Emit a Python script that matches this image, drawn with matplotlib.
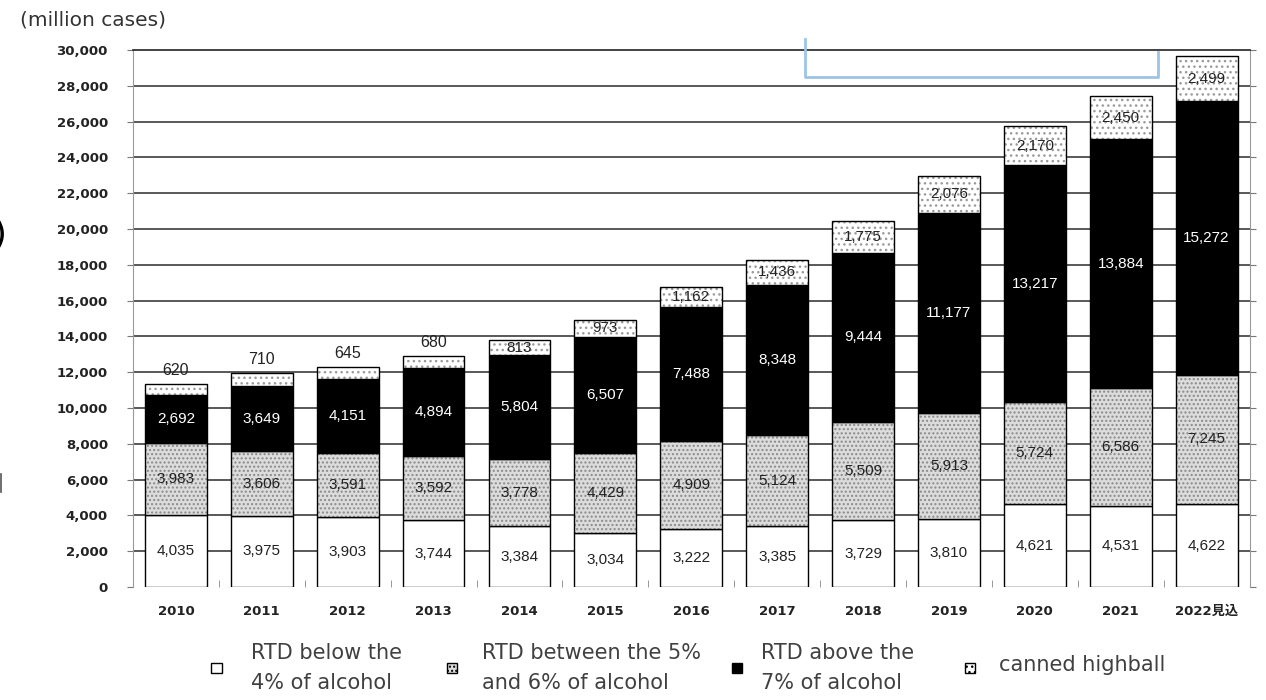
import matplotlib
matplotlib.use("Agg")
import matplotlib.pyplot as plt
import matplotlib.lines as mlines
import matplotlib.patches as patches
import numpy as np

years = ["2010", "2011", "2012", "2013", "2014", "2015", "2016",
         "2017", "2018", "2019", "2020", "2021", "2022見込"]
below4 = [4035, 3975, 3903, 3744, 3384, 3034, 3222, 3385, 3729, 3810, 4621, 4531, 4622]
between5_6 = [3983, 3606, 3591, 3592, 3778, 4429, 4909, 5124, 5509, 5913, 5724, 6586, 7245]
above7 = [2692, 3649, 4151, 4894, 5804, 6507, 7488, 8348, 9444, 11177, 13217, 13884, 15272]
highball = [620, 710, 645, 680, 813, 973, 1162, 1436, 1775, 2076, 2170, 2450, 2499]
yticks = list(range(0, 30001, 2000))

NUM_FONT = ["Liberation Sans", "Noto Sans CJK JP"]
TICK_FONT = ["DejaVu Sans", "Noto Sans CJK JP"]
TXT_FONT = ["DejaVu Sans"]

fig = plt.figure(figsize=(12.66, 7), dpi=100)
ax = fig.add_axes([0.105, 0.1614, 0.882, 0.7672])

x = np.arange(len(years))
w = 0.72
b1 = np.array(below4)
b2 = b1 + np.array(between5_6)
b3 = b2 + np.array(above7)

# gridlines under the bars
for t in yticks[1:-1]:
    ax.axhline(t, color="#3c3c3c", lw=1.2, zorder=0)

ax.bar(x, below4, w, color="white", edgecolor="black", lw=1, zorder=2)
ax.bar(x, between5_6, w, bottom=b1, color="#dcdcdc", edgecolor="#8a8a8a",
       hatch="....", lw=0, zorder=2)
ax.bar(x, between5_6, w, bottom=b1, color="none", edgecolor="black", lw=1, zorder=3)
ax.bar(x, above7, w, bottom=b2, color="black", edgecolor="black", lw=1, zorder=2)
ax.bar(x, highball, w, bottom=b3, color="white", edgecolor="#9a9a9a",
       hatch="...", lw=0, zorder=2)
ax.bar(x, highball, w, bottom=b3, color="none", edgecolor="black", lw=1, zorder=3)


def fmt(v):
    return f"{v:,}"


for i in range(len(years)):
    ax.text(x[i], below4[i] / 2, fmt(below4[i]), ha="center", va="center",
            fontsize=11, color="#222222", family=NUM_FONT, zorder=5)
    ax.text(x[i], b1[i] + between5_6[i] / 2, fmt(between5_6[i]), ha="center",
            va="center", fontsize=11, color="#222222", family=NUM_FONT, zorder=5)
    ax.text(x[i], b2[i] + above7[i] / 2, fmt(above7[i]), ha="center", va="center",
            fontsize=11, color="white", family=NUM_FONT, zorder=5)
    if i < 4:
        ax.text(x[i], b3[i] + highball[i] + 350, fmt(highball[i]), ha="center",
                va="bottom", fontsize=11.5, color="#222222", family=NUM_FONT, zorder=5)
    else:
        ax.text(x[i], b3[i] + highball[i] / 2, fmt(highball[i]), ha="center",
                va="center", fontsize=11, color="#222222", family=NUM_FONT, zorder=5)

ax.set_xlim(-0.5, len(years) - 0.5)
ax.set_ylim(0, 30000)
ax.set_yticks(yticks)
ax.set_yticklabels([fmt(t) for t in yticks], fontsize=9.5, fontweight="bold",
                   family=TICK_FONT, color="#222222")
ax.set_xticks(x)
ax.set_xticklabels(years, fontsize=9.5, fontweight="bold", family=TICK_FONT,
                   color="#222222")
ax.set_xticks(np.arange(len(years) - 1) + 0.5, minor=True)
ax.tick_params(axis="x", which="major", length=0, pad=13)
ax.tick_params(axis="x", which="minor", length=5, direction="in", color="#888888")
ax.tick_params(axis="y", which="major", length=4, color="#777777", pad=14,
               right=True)

for s in ["left", "right"]:
    ax.spines[s].set_color("#9a9a9a")
ax.spines["top"].set_color("#222222")
ax.spines["top"].set_linewidth(1.2)
ax.spines["bottom"].set_visible(False)

# light blue bracket at the top right
bx = [7.32, 7.32, 11.44, 11.44]
by = [30600, 28500, 28500, 29900]
ax.add_line(mlines.Line2D(bx, by, color="#9dc3e6", lw=2, clip_on=False, zorder=6))

fig.text(0.016, 0.971, "(million cases)", fontsize=14.5, color="#333333",
         family=TXT_FONT, va="center", ha="left")
fig.text(-0.006, 0.665, ")", fontsize=26, color="black", family=TXT_FONT,
         va="center", ha="left")
fig.add_artist(mlines.Line2D([0.001, 0.001], [1 - 492 / 700, 1 - 474 / 700],
                             color="#555555", lw=1.2, transform=fig.transFigure))

# legend drawn by hand
legend_items = [
    (0.171, 0.198, "RTD below the\n4% of alcohol", "white", ""),
    (0.357, 0.381, "RTD between the 5%\nand 6% of alcohol", "#dcdcdc", "...."),
    (0.582, 0.601, "RTD above the\n7% of alcohol", "black", ""),
    (0.766, 0.789, "canned highball", "white", "..."),
]
for mx, tx, label, fc, hatch in legend_items:
    my = 1 - 668 / 700
    fig.patches.append(patches.Rectangle((mx - 0.004, my - 0.0075), 0.008, 0.015,
                                         transform=fig.transFigure, facecolor=fc,
                                         edgecolor="black", lw=1, hatch=hatch))
    ty = 1 - 668 / 700 if "\n" in label else 1 - 665 / 700
    fig.text(tx, ty, label, fontsize=15, color="#404040", family=TXT_FONT,
             va="center", ha="left", linespacing=1.6)

fig.savefig("out.png", dpi=100)
